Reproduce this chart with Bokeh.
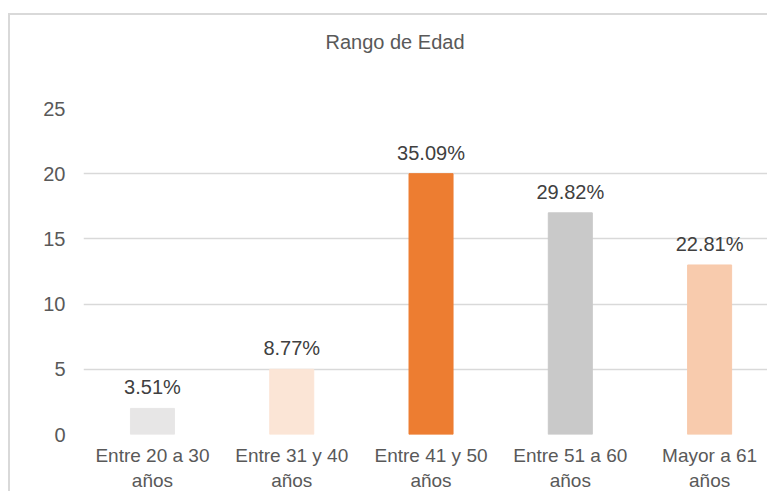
from bokeh.plotting import figure
from bokeh.models import Range1d, FixedTicker, ColumnDataSource, Title
from bokeh.embed import file_html
from bokeh.resources import INLINE
from bokeh.core.properties import value

title_text = "Rango de Edad"
categories = ["Entre 20 a 30\naños", "Entre 31 y 40\naños", "Entre 41 y 50\naños",
              "Entre 51 a 60\naños", "Mayor a 61\naños"]
counts = [2, 5, 20, 17, 13]
pct_labels = ["3.51%", "8.77%", "35.09%", "29.82%", "22.81%"]
colors = ["#e7e6e6", "#fbe5d6", "#ed7d31", "#c9c9c9", "#f8cbad"]
y_ticks = [0, 5, 10, 15, 20, 25]

xs = list(range(1, len(categories) + 1))
src = ColumnDataSource(dict(x=xs, top=counts, label=pct_labels, color=colors))

FONT = "Liberation Sans"
TXT = "#595959"

p = figure(width=759, height=478, output_backend="svg", toolbar_location=None,
           x_range=Range1d(0.505, 5.43), y_range=Range1d(0, 25),
           min_border_left=73, min_border_right=0, min_border_top=93, min_border_bottom=59)
p.styles = {"border-left": "2px solid #d9d9d9", "border-top": "2px solid #d9d9d9",
            "margin-left": "8px", "margin-top": "13px"}
p.outline_line_color = None
p.background_fill_color = "white"
p.border_fill_color = "white"

# spacer between the title and the plot area
p.add_layout(Title(text=" ", text_font_size="40px", standoff=10), "above")

p.title.text = title_text
p.title.align = "left"
p.title.vertical_align = "bottom"
p.title.offset = 242
p.title.text_font = FONT
p.title.text_font_size = "20px"
p.title.text_font_style = "normal"
p.title.text_color = TXT
p.title.standoff = 0

p.vbar(x="x", top="top", width=0.316, color="color", source=src)
p.text(x="x", y="top", text="label", source=src, text_align="center",
       text_baseline="alphabetic", y_offset=-21, text_font=value(FONT),
       text_font_size="20px", text_color="#404040")

p.xgrid.grid_line_color = None
p.ygrid.grid_line_color = "#d9d9d9"
p.ygrid.grid_line_width = 1.5
p.yaxis.ticker = FixedTicker(ticks=y_ticks)
p.xaxis.ticker = FixedTicker(ticks=xs)
p.xaxis.major_label_overrides = {x: c for x, c in zip(xs, categories)}

for ax in (p.xaxis[0], p.yaxis[0]):
    ax.axis_line_color = None
    ax.major_tick_line_color = None
    ax.minor_tick_line_color = None
    ax.major_tick_out = 0
    ax.major_tick_in = 0
    ax.major_label_text_font = FONT
    ax.major_label_text_color = TXT
p.yaxis.major_label_text_font_size = "20px"
p.yaxis.major_label_standoff = 18
p.xaxis.major_label_text_font_size = "19px"
p.xaxis.major_label_standoff = 10

open("out.html", "w").write(file_html(p, INLINE))
